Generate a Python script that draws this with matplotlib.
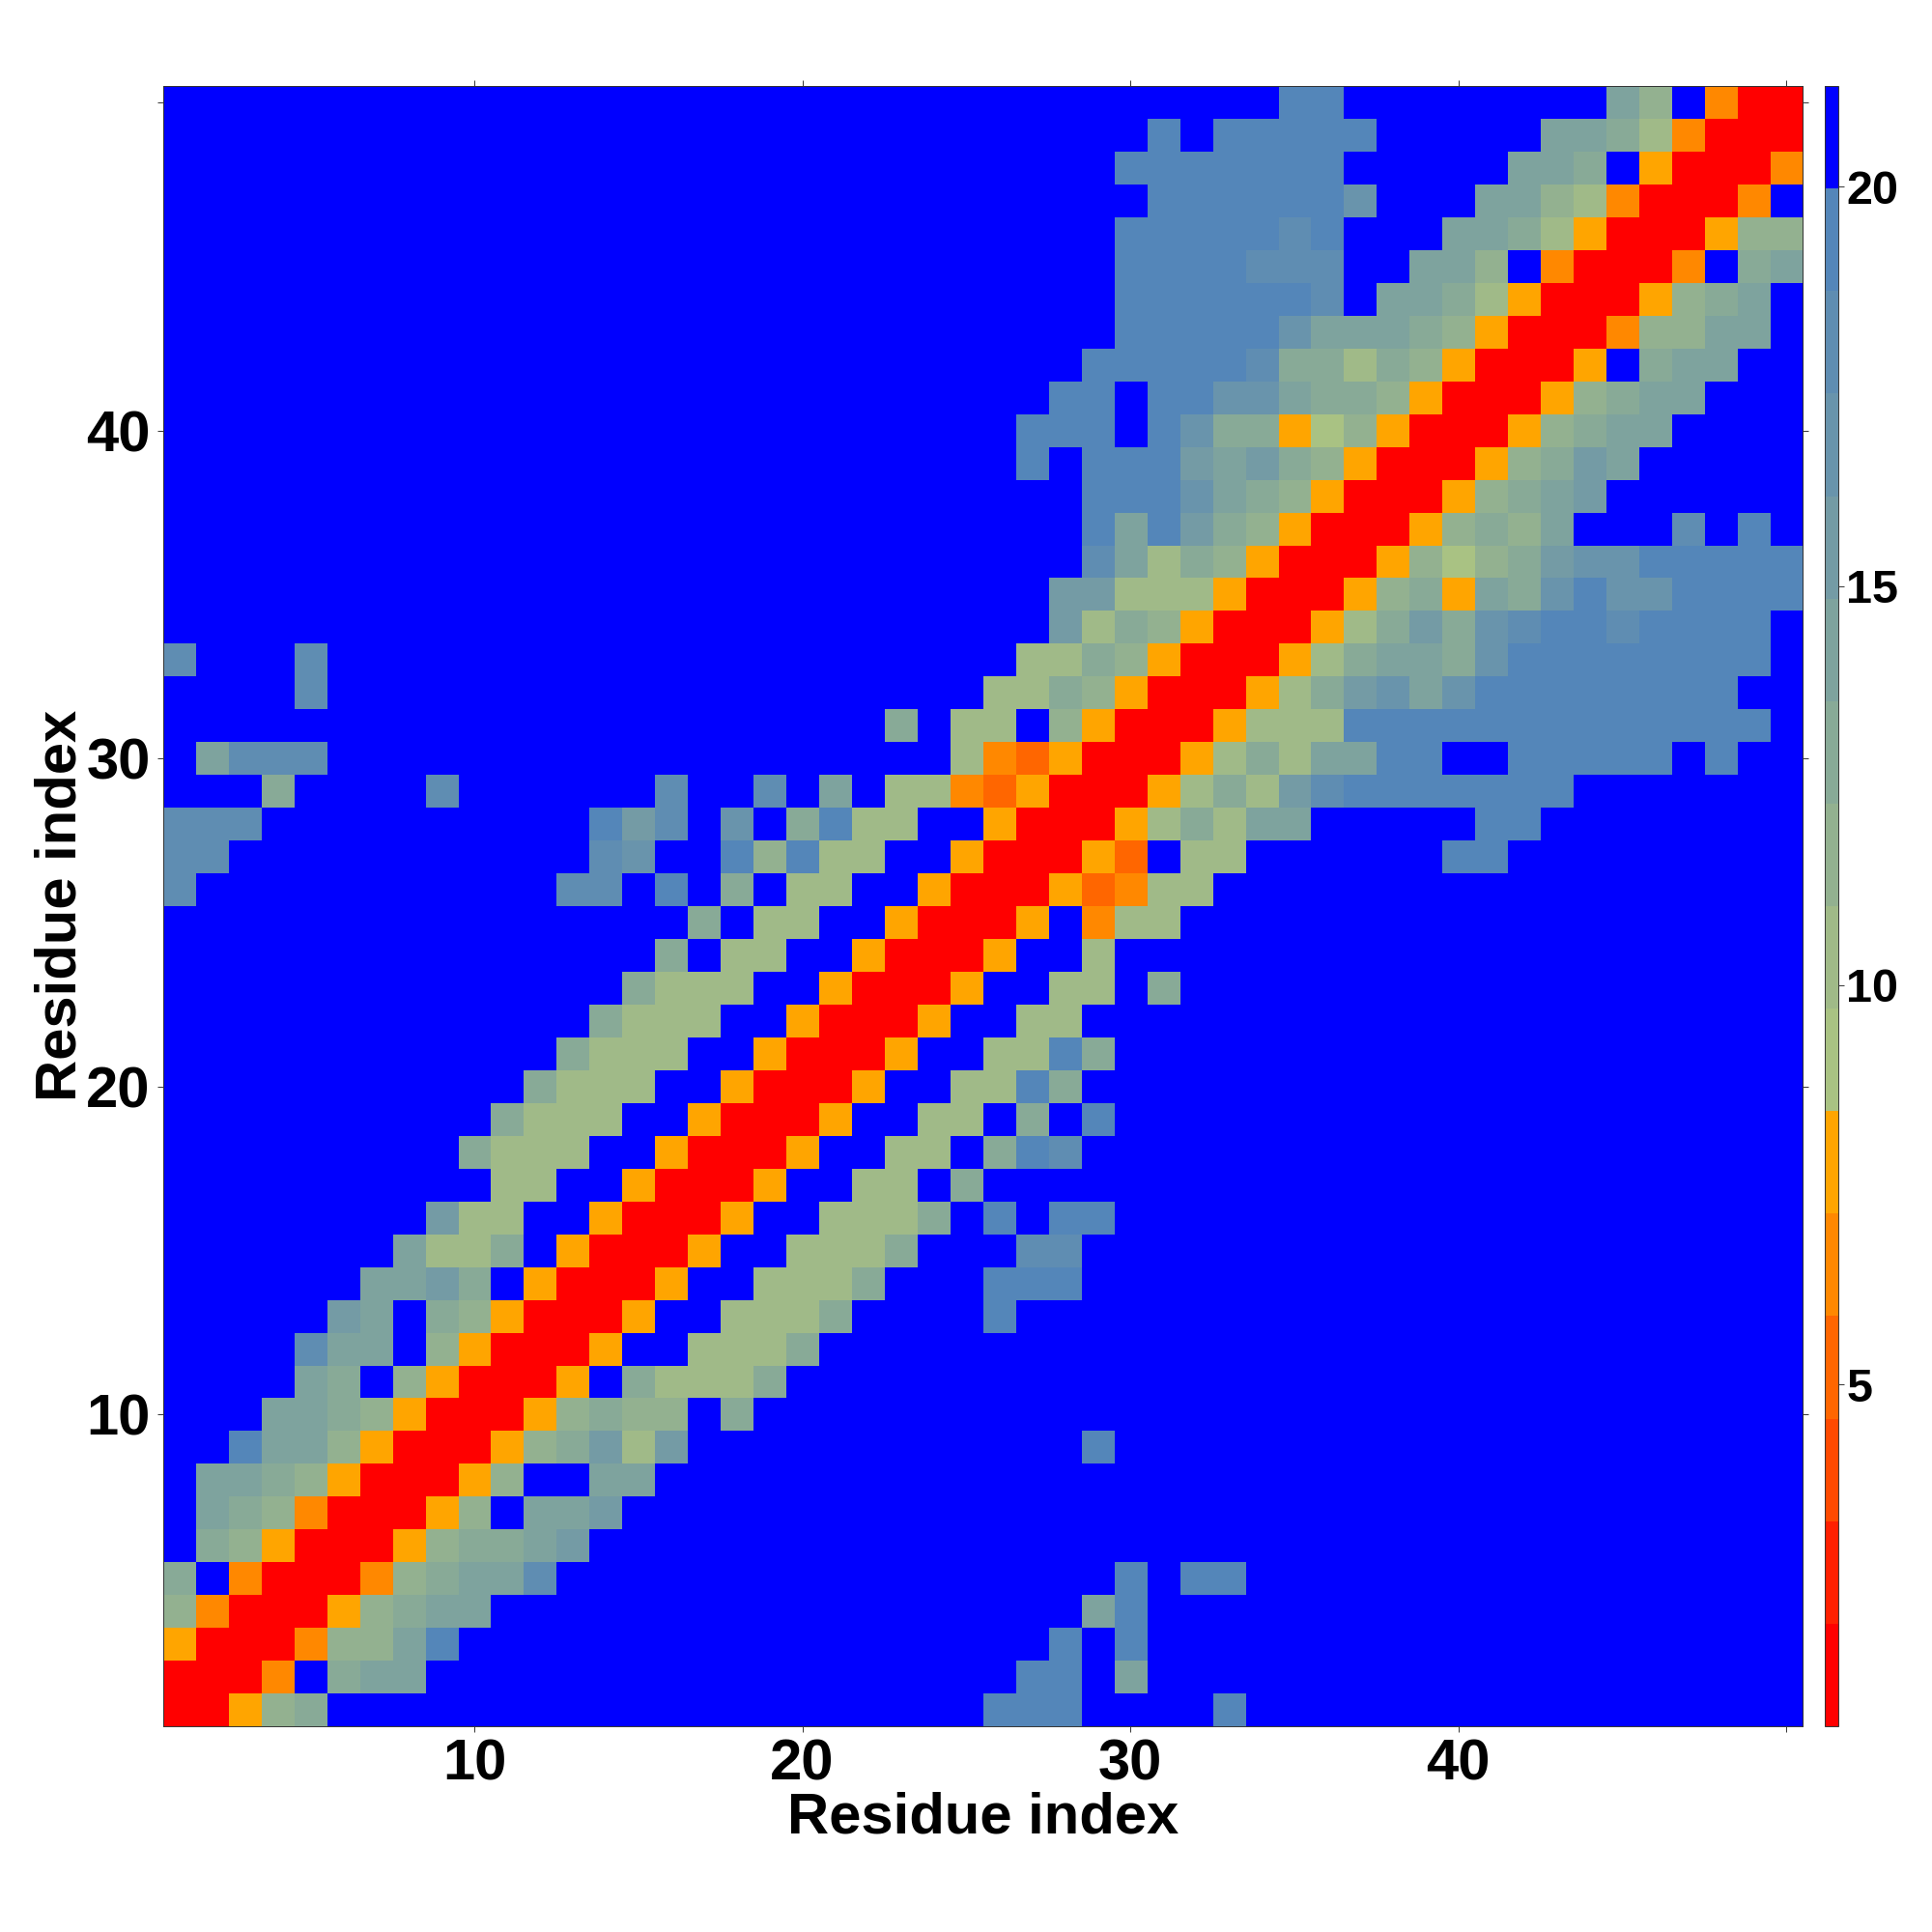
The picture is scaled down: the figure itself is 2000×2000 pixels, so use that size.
import numpy as np
import matplotlib
matplotlib.use("Agg")
import matplotlib.pyplot as plt
from matplotlib.colors import ListedColormap

plt.rcParams['font.family'] = ['Liberation Sans', 'DejaVu Sans']
plt.rcParams['font.weight'] = 'bold'

# Distance-bin index per residue pair, one hex digit per cell (0 = nearest, f = farthest).
# Rows run from residue 50 (top) to residue 1 (bottom); spaces only group columns by tens.
F = "ffffffffff"
BIN_ROWS = [
    f"{F} {F} {F} ffffeeffff ffffa8f400",
    f"{F} {F} {F} efeeeeefff ffaa974000",
    f"{F} {F} fffffffffe eeeeeeffff faa9f50004",
    f"{F} {F} {F} eeeeeecfff aa8740004f",
    f"{F} {F} fffffffffe eeeedefffa a975000588",
    f"{F} {F} fffffffffe eeedddffaa 8f40004f9a",
    f"{F} {F} fffffffffe eeeeedfaa9 75000589af",
    f"{F} {F} fffffffffe eeeecaaa98 5000488aaf",
    f"{F} {F} ffffffffee eeed997985 0005f9aaff",
    f"{F} {F} fffffffeef eecca99850 00589aafff",
    f"{F} {F} ffffffeeef ec99568500 0589aaffff",
    f"{F} {F} ffffffefee ebab985000 589bafffff",
    f"{F} {F} ffffffffee eca9850005 89abffffff",
    f"{F} {F} ffffffffea eb98500058 98afffdfef",
    f"{F} {F} ffffffffda 7985000586 89bcceeeee",
    f"{F} {F} fffffffbb7 7750005895 a9cecceeee",
    f"{F} {F} fffffffb79 85000579b9 cdeedeeeef",
    f"dfffdfffff {F} ffffff7798 5000579aa9 ceeeeeeeef",
    f"ffffdfffff {F} fffff77985 000579bcac eeeeeeeeff",
    f"{F} {F} ff9f77f850 005777eeee eeeeeeeeef",
    f"fadddfffff {F} ffff743500 05797aaeef feeeeefeff",
    f"fff9ffffdf fffffdffdf af77435000 5797bdeeee eeefffffff",
    f"dddfffffff fffebdfcf9 e77ff50005 797aafffff eeffffffff",
    f"ddffffffff fffdcffe8e 77ff500053 f77ffffffe efffffffff",
    f"dfffffffff ffddfef9f7 7ff5000534 77ffffffff {F}",
    f"{F} ffffff9f77 ff50005f47 7fffffffff {F}",
    f"{F} fffff9f77f f50005ff7f {F} {F}",
    f"{F} ffff9777ff 50005ff77f 9fffffffff {F}",
    f"{F} fff9777ff5 0005ff77ff {F} {F}",
    f"{F} ff9777ff50 005ff77e9f {F} {F}",
    f"{F} f9777ff500 05ff77e9ff {F} {F}",
    f"{F} 9777ff5000 5ff77f9fef {F} {F}",
    f"fffffffff9 777ff50005 ff77f9edff {F} {F}",
    f"{F} 77ff50005f f77f9fffff {F} {F}",
    f"ffffffffb7 7ff50005ff 7779fefeef {F} {F}",
    f"fffffffa77 9f50005ff7 779fffddff {F} {F}",
    f"ffffffaab9 f50005ff77 79fffeeeff {F} {F}",
    f"fffffbaf98 50005ff777 9ffffeffff {F} {F}",
    f"ffffdaaf85 0005ff7779 {F} {F} {F}",
    f"ffffa9f850 005f97779f {F} {F} {F}",
    f"fffaa98500 058988f9ff {F} {F} {F}",
    f"ffeaa85000 589b7bffff ffffffffef {F} {F}",
    f"faa9850005 8ffaafffff {F} {F} {F}",
    f"fa98400058 faabffffff {F} {F} {F}",
    f"f985000589 9abfffffff {F} {F} {F}",
    f"9f4000489a adffffffff fffffffffe feefffffff {F}",
    f"84000589aa {F} ffffffffae {F} {F}",
    f"5000488aef {F} fffffffefe {F} {F}",
    f"0004f9aaff {F} ffffffeefa {F} {F}",
    f"00589fffff {F} fffffeeeff ffefffffff {F}",
]

BIN_COLORS = ["#ff0000", "#ff2000", "#ff4a00", "#ff6600", "#ff8800", "#ffa500",
              "#a9c283", "#a0ba88", "#93b190", "#88aa97", "#7ea39e", "#749ba5",
              "#6994ac", "#5f8db2", "#5486b9", "#0000ff"]
COLOR_MIN = 0.72
COLOR_MAX = 21.26
TICKS = [10, 20, 30, 40, 50]
TICK_LABELS = ["10", "20", "30", "40", ""]
CBAR_TICKS = [5, 10, 15, 20]
AXIS_LABEL = "Residue index"

bins = np.array([[int(ch, 16) for ch in row.replace(" ", "")] for row in BIN_ROWS])[::-1]
width = (COLOR_MAX - COLOR_MIN) / len(BIN_COLORS)
distances = COLOR_MIN + (bins + 0.5) * width

W, H = 2000, 2000
fig = plt.figure(figsize=(W / 100, H / 100), dpi=100, facecolor="white")
ax = fig.add_axes([168.5 / W, 1 - 1787 / H, (1866 - 168.5) / W, (1787 - 89) / H])
cax = fig.add_axes([1889 / W, 1 - 1787 / H, 14 / W, (1787 - 89) / H])

cmap = ListedColormap(BIN_COLORS)
im = ax.imshow(distances, origin="lower", extent=(0.5, 50.5, 0.5, 50.5), aspect="auto",
               cmap=cmap, vmin=COLOR_MIN, vmax=COLOR_MAX, interpolation="nearest")

ax.set_xticks(TICKS, TICK_LABELS)
ax.set_yticks(TICKS, TICK_LABELS)
ax.tick_params(axis="both", which="major", direction="out", length=4.3, width=0.7,
               color="#333333", top=True, right=True, labelsize=43)
ax.tick_params(axis="x", pad=5)
ax.tick_params(axis="y", pad=5)
for spine in ax.spines.values():
    spine.set_linewidth(0.7)
    spine.set_color("#333333")

fig.text(1018 / W, 1 - 1882 / H, AXIS_LABEL, fontsize=43, fontweight="bold",
         ha="center", va="center")
fig.text(63 / W, 1 - 937 / H, AXIS_LABEL, fontsize=43, fontweight="bold",
         rotation=90, ha="center", va="center")

cb = fig.colorbar(im, cax=cax, ticks=CBAR_TICKS)
cb.ax.tick_params(direction="out", length=4, width=0.7, color="#333333", labelsize=35, pad=2)
cb.outline.set_linewidth(0.7)
cb.outline.set_edgecolor("#333333")

fig.savefig("out.png", dpi=100, facecolor="white")
